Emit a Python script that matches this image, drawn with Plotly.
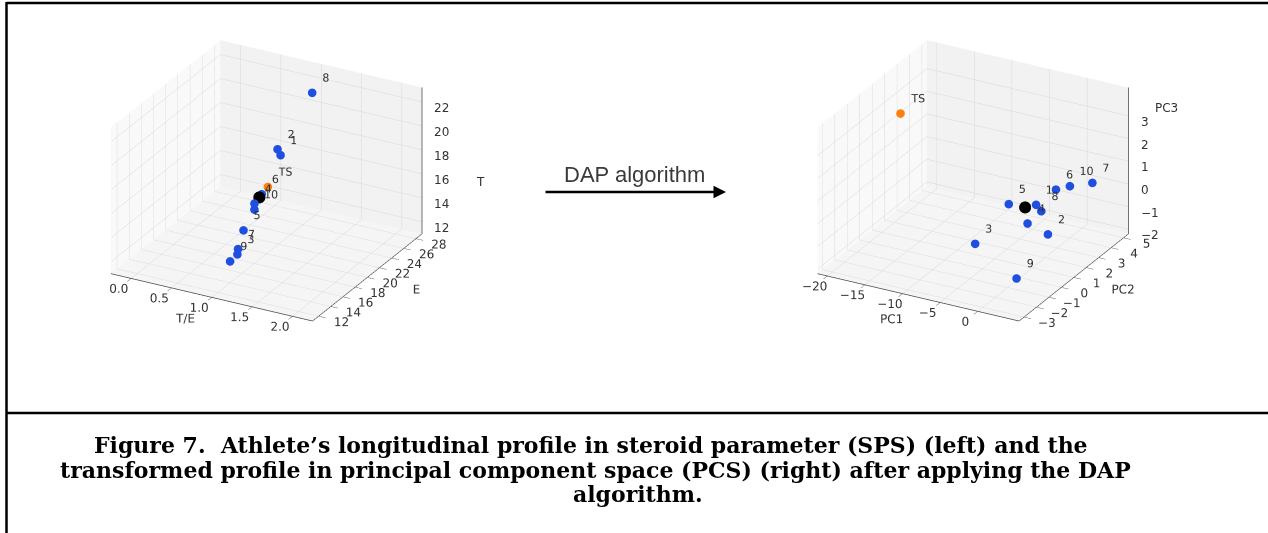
import math
import plotly.graph_objects as go

# ---------------- Data: steroid parameter space (left) ----------------
sps_labels = ['1', '2', '3', '4', '5', '6', '7', '8', '9', '10']
sps_te = [1.0, 1.0, 1.0, 1.0, 1.0, 1.0, 1.0, 1.0, 1.0, 1.0]
sps_e = [22.3, 21.8, 15.2, 18.0, 16.2, 19.2, 15.3, 27.5, 14.0, 18.0]
sps_t = [18.3, 19.0, 12.9, 16.0, 14.5, 16.3, 13.3, 21.4, 12.8, 15.5]
sps_ts = [1.0, 20.2, 16.5]      # T/E, E, T of test sample
sps_mean = [1.0, 18.8, 16.2]    # T/E, E, T of profile centre
sps_te_ticks = [0.0, 0.5, 1.0, 1.5, 2.0]
sps_e_ticks = [12, 14, 16, 18, 20, 22, 24, 26, 28]
sps_t_ticks = [12, 14, 16, 18, 20, 22]

# ---------------- Data: principal component space (right) ----------------
pcs_labels = ['1', '2', '3', '4', '5', '6', '7', '8', '9', '10']
pcs_pc1 = [1.3, 1.8, -4.6, 0.5, -1.5, 1.1, 3.0, 1.5, 4.0, 1.0]
pcs_pc2 = [0.5, 1.15, -0.83, 0.3, 0.0, 2.22, 4.0, 0.8, -2.7, 3.4]
pcs_pc3 = [0.9, -0.65, -0.7, 0.1, 0.93, 0.8, 0.47, 0.5, -0.74, 0.43]
pcs_ts = [-19.7, 2.3, 2.5]
pcs_mean = [0.5, 0.1, 0.9]
pcs_pc1_ticks = [-20, -15, -10, -5, 0]
pcs_pc2_ticks = [-3, -2, -1, 0, 1, 2, 3, 4, 5]
pcs_pc3_ticks = [-2, -1, 0, 1, 2, 3]

caption_lines = [
    "Figure 7.  Athlete\u2019s longitudinal profile in steroid parameter (SPS) (left) and the",
    "transformed profile in principal component space (PCS) (right) after applying the DAP",
    "algorithm.",
]

BLUE = '#1f4fe0'
ORANGE = '#ff7f0e'
W, H = 1268, 533
TXT = '#333333'

fig = go.Figure()


def add_points(scene, xs, ys, zs, labels, ts, mean):
    fig.add_trace(go.Scatter3d(
        x=xs, y=ys, z=zs, mode='markers+text', text=labels,
        textposition='top right', textfont=dict(size=11, color=TXT),
        marker=dict(size=5, color=BLUE, line=dict(width=0)),
        scene=scene, showlegend=False, hoverinfo='skip'))
    fig.add_trace(go.Scatter3d(
        x=[ts[0]], y=[ts[1]], z=[ts[2]], mode='markers+text', text=['TS'],
        textposition='top right', textfont=dict(size=11, color=TXT),
        marker=dict(size=5, color=ORANGE, line=dict(width=0)),
        scene=scene, showlegend=False, hoverinfo='skip'))
    fig.add_trace(go.Scatter3d(
        x=[mean[0]], y=[mean[1]], z=[mean[2]], mode='markers',
        marker=dict(size=7, color='black', line=dict(width=0)),
        scene=scene, showlegend=False, hoverinfo='skip'))


def right_zaxis(scene, xr, yr, zr, zticks, title, title_z, title_shift):
    """matplotlib-style z axis on the right-hand vertical edge (x max, y max)."""
    xm, ym = xr[1], yr[1]
    dx = (xr[1] - xr[0]) * 0.02
    dy = (yr[1] - yr[0]) * 0.02
    lx, ly, lz = [xm, xm, None], [ym, ym, None], [zr[0], zr[1], None]
    for t in zticks:
        lx += [xm, xm + dx, None]
        ly += [ym, ym + dy, None]
        lz += [t, t, None]
    fig.add_trace(go.Scatter3d(x=lx, y=ly, z=lz, mode='lines',
                               line=dict(color='#444', width=1.5),
                               scene=scene, showlegend=False, hoverinfo='skip'))
    anns = []
    for t in zticks:
        anns.append(dict(x=xm, y=ym, z=t, text=str(t).replace('-', '\u2212'), showarrow=False,
                         xanchor='left', yanchor='middle', xshift=10, yshift=-6,
                         font=dict(family='DejaVu Sans', size=12, color=TXT)))
    anns.append(dict(x=xm, y=ym, z=title_z, text=title, showarrow=False,
                     xanchor='left', yanchor='middle', xshift=title_shift, yshift=-6,
                     font=dict(family='DejaVu Sans', size=12, color=TXT)))
    return anns


L_X, L_Y, L_Z = [-0.25, 2.25], [11, 29], [11, 23.2]
R_X, R_Y, R_Z = [-21.3, 5.5], [-3.4, 5.4], [-2.2, 4.25]

add_points('scene', sps_te, sps_e, sps_t, sps_labels, sps_ts, sps_mean)
add_points('scene2', pcs_pc1, pcs_pc2, pcs_pc3, pcs_labels, pcs_ts, pcs_mean)
l_anns = right_zaxis('scene', L_X, L_Y, L_Z, sps_t_ticks, 'T', 15.8, 52)
r_anns = right_zaxis('scene2', R_X, R_Y, R_Z, pcs_pc3_ticks, 'PC3', 3.6, 24)


def ax(title, rng, ticks, bg, fmt='', show=True):
    return dict(
        title=dict(text=title if show else '', font=dict(size=12, color=TXT)),
        range=rng, autorange=False, tickmode='array', tickvals=ticks, tickformat=fmt,
        showticklabels=show, tickangle=0,
        showbackground=True, backgroundcolor=bg,
        gridcolor='rgb(215,215,215)', gridwidth=1,
        zeroline=False, showline=show, linecolor='#444', linewidth=1.5,
        ticks='outside' if show else '', ticklen=8, tickcolor='#444',
        tickfont=dict(size=12, color=TXT), showspikes=False)


elev, azim, dist = 24.5, -61.5, 1.6
eye = dict(x=dist * math.cos(math.radians(elev)) * math.cos(math.radians(azim)),
           y=dist * math.cos(math.radians(elev)) * math.sin(math.radians(azim)),
           z=dist * math.sin(math.radians(elev)))
cam = dict(eye=eye, up=dict(x=0, y=0, z=1), center=dict(x=0, y=0, z=-0.035),
           projection=dict(type='orthographic'))
aspect = dict(x=1.23, y=1.23, z=0.87)

fig.update_layout(
    width=W, height=H, margin=dict(l=0, r=0, t=0, b=0),
    paper_bgcolor='white', font=dict(family='DejaVu Sans'),
    scene=dict(
        domain=dict(x=[0.015, 0.405], y=[0.30, 1.0]),
        xaxis=ax('T/E', L_X, sps_te_ticks, 'rgb(249,249,249)', '.1f'),
        yaxis=ax('E', L_Y, sps_e_ticks, 'rgb(242,242,242)'),
        zaxis=ax('', L_Z, sps_t_ticks, 'rgb(245,245,245)', show=False),
        aspectmode='manual', aspectratio=aspect,
        camera=cam, annotations=l_anns),
    scene2=dict(
        domain=dict(x=[0.5726, 0.9622], y=[0.30, 1.0]),
        xaxis=ax('PC1', R_X, pcs_pc1_ticks, 'rgb(249,249,249)'),
        yaxis=ax('PC2', R_Y, pcs_pc2_ticks, 'rgb(242,242,242)'),
        zaxis=ax('', R_Z, pcs_pc3_ticks, 'rgb(245,245,245)', show=False),
        aspectmode='manual', aspectratio=aspect,
        camera=cam, annotations=r_anns),
)


def px(x):
    return x / W


def py(y):
    return 1 - y / H


# Border lines
line_style = dict(color='black', width=2.5)
fig.add_shape(type='line', xref='paper', yref='paper', x0=px(6.5), x1=1.0, y0=py(3), y1=py(3), line=line_style)
fig.add_shape(type='line', xref='paper', yref='paper', x0=px(6.5), x1=px(6.5), y0=py(2), y1=0, line=line_style)
fig.add_shape(type='line', xref='paper', yref='paper', x0=px(6.5), x1=1.0, y0=py(413), y1=py(413), line=line_style)

# Arrow and its label
fig.add_annotation(x=px(726), y=py(192), xref='paper', yref='paper',
                   ax=-182, ay=0, axref='pixel', ayref='pixel', text='',
                   showarrow=True, arrowhead=2, arrowsize=1.0, arrowwidth=2.5, arrowcolor='black')
fig.add_annotation(x=px(634), y=py(160), xref='paper', yref='paper', text='DAP algorithm',
                   showarrow=False, font=dict(family='Liberation Sans', size=22, color='#3a3a3a'))

# Caption
for txt, cx, cy in zip(caption_lines, [591, 595, 638], [445, 470, 494]):
    fig.add_annotation(x=px(cx), y=py(cy), xref='paper', yref='paper', text='<b>' + txt + '</b>',
                       showarrow=False, xanchor='center', yanchor='middle',
                       font=dict(family='DejaVu Serif', size=22, color='black'))

fig.write_html('out.html')
